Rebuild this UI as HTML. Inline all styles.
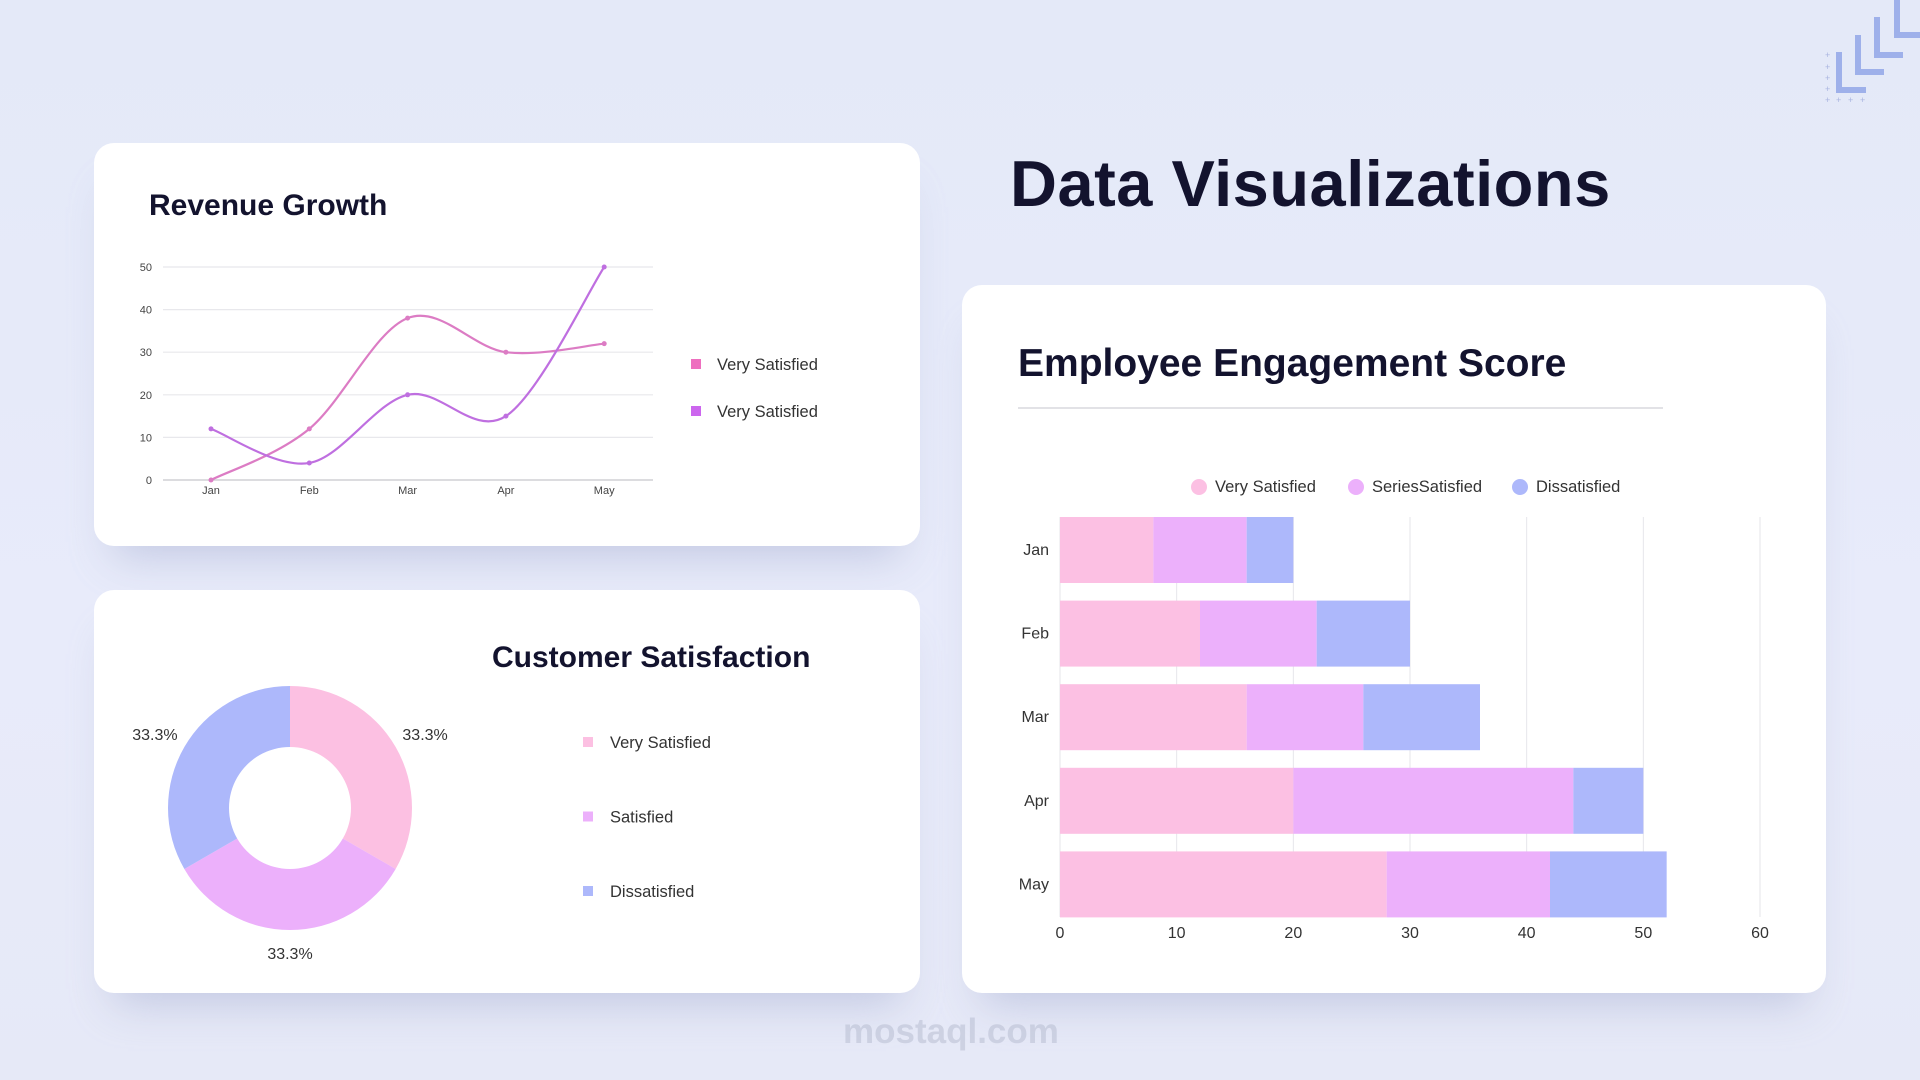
<!DOCTYPE html>
<html><head><meta charset="utf-8"><style>
*{margin:0;padding:0;box-sizing:border-box}
body{width:1920px;height:1080px;overflow:hidden;background:linear-gradient(180deg,#e4e9f8 0%,#e8ebfa 60%,#e6e9f7 100%);font-family:"Liberation Sans",sans-serif;position:relative}
.card{position:absolute;background:#fff;border-radius:20px;box-shadow:0 30px 40px -20px rgba(150,160,200,0.45)}
.abs{position:absolute}
</style></head><body>
<svg class="abs" style="left:1800px;top:0" width="120" height="110">
<g fill="none" stroke="#9eb0ea" stroke-width="6">
<path d="M1839 52 V90 H1866" transform="translate(-1800,0)"/>
<path d="M1858 35 V72 H1884" transform="translate(-1800,0)"/>
<path d="M1877 17 V55 H1903" transform="translate(-1800,0)"/>
<path d="M1897 0 V35 H1920" transform="translate(-1800,0)"/>
</g>
<g fill="#a9b4e0" font-size="9"><text x="25" y="58">+</text><text x="25" y="70">+</text><text x="25" y="81">+</text><text x="25" y="92">+</text><text x="25" y="103">+</text><text x="36" y="103">+</text><text x="48" y="103">+</text><text x="60" y="103">+</text></g>
</svg>
<div class="abs" style="left:1010px;top:146px;font-size:65px;font-weight:bold;color:#13132e;letter-spacing:0.5px">Data Visualizations</div>

<div class="card" style="left:94px;top:143px;width:826px;height:403px"></div>
<div class="card" style="left:94px;top:590px;width:826px;height:403px"></div>
<div class="card" style="left:962px;top:285px;width:864px;height:708px"></div>

<div class="abs" style="left:843px;top:1012px;font-size:35px;font-weight:bold;color:rgba(180,185,205,0.5)">mostaql.com</div>

<svg class="abs" style="left:0;top:0" width="1920" height="1080" id="main">
<text x="149" y="215" font-size="30" font-weight="bold" fill="#13132e">Revenue Growth</text>
<g id="line"></g>
<text x="492" y="667" font-size="30" font-weight="bold" fill="#13132e">Customer Satisfaction</text>
<g id="pie"></g>
<text x="1018" y="376" font-size="39" font-weight="bold" fill="#13132e">Employee Engagement Score</text>
<line x1="1018" y1="408" x2="1663" y2="408" stroke="#d8d8de" stroke-width="1.5"/>
<g id="bar"></g>
</svg>
<script>
// Line chart data
const lineMonths=["Jan","Feb","Mar","Apr","May"];
const lineSeriesA=[0,12,38,30,32];
const lineSeriesB=[12,4,20,15,50];
const lineTicks=[0,10,20,30,40,50];
// Pie data
const pieLabels=["Very Satisfied","Satisfied","Dissatisfied"];
const pieValues=[1,1,1];
// Bar data
const barMonths=["Jan","Feb","Mar","Apr","May"];
const barVerySat=[8,12,16,20,28];
const barSat=[8,10,10,24,14];
const barDissat=[4,8,10,6,10];
const barTicks=[0,10,20,30,40,50,60];
const barLegend=["Very Satisfied","SeriesSatisfied","Dissatisfied"];

const NS="http://www.w3.org/2000/svg";
function mk(p,t,a){const e=document.createElementNS(NS,t);for(const k in a)e.setAttribute(k,a[k]);p.appendChild(e);return e;}

// ---- line chart
const LG=document.getElementById('line');
const lx=i=>211+i*98.3, ly=v=>480-v*(213/50);
lineTicks.forEach(t=>{
  const l=mk(LG,'line',{x1:163,x2:653,y1:ly(t),y2:ly(t),stroke:t===0?'#c8c8cc':'#e8e8ec','stroke-width':1.2});
  
  
  const tx=mk(LG,'text',{x:152,y:ly(t)+4,'font-size':11,fill:'#444','text-anchor':'end'});tx.textContent=t;
  
  
});
lineMonths.forEach((m,i)=>{const tx=mk(LG,'text',{x:lx(i),y:494,'font-size':11,fill:'#444','text-anchor':'middle'});tx.textContent=m;
  
  });
function smooth(vals){const p=vals.map((v,i)=>[lx(i),ly(v)]);let d=`M${p[0][0]},${p[0][1]}`;
  for(let i=0;i<p.length-1;i++){const p0=p[Math.max(i-1,0)],p1=p[i],p2=p[i+1],p3=p[Math.min(i+2,p.length-1)];
  d+=` C${p1[0]+(p2[0]-p0[0])/6},${p1[1]+(p2[1]-p0[1])/6} ${p2[0]-(p3[0]-p1[0])/6},${p2[1]-(p3[1]-p1[1])/6} ${p2[0]},${p2[1]}`;}return d;}
[[lineSeriesA,'#dc7cc4','series-a'],[lineSeriesB,'#bf6fe0','series-b']].forEach(([s,c,n])=>{
  const pth=mk(LG,'path',{d:smooth(s),fill:'none',stroke:c,'stroke-width':2.2});
  
  
  s.forEach((v,i)=>{const pt=mk(LG,'circle',{cx:lx(i),cy:ly(v),r:2.5,fill:c});
    
    });
});
[['#ee6fbf',364],['#cc66ee',411]].forEach(([c,y])=>{
  const r=mk(LG,'rect',{x:691,y:y-5,width:10,height:10,fill:c});
  
  
  const t=mk(LG,'text',{x:717,y:y+6,'font-size':16.5,fill:'#333'});t.textContent='Very Satisfied';
  
  
});

// ---- pie
const PG=document.getElementById('pie');
const cx=290,cy=808,R=122,r0=61,pieColors=['#fcc0e2','#ecb0fb','#adb8fb'];
const total=pieValues.reduce((a,b)=>a+b,0);let ang=-Math.PI/2;
pieValues.forEach((v,i)=>{const a2=ang+v/total*2*Math.PI;const lg=(a2-ang)>Math.PI?1:0;
  const P=(r,a)=>`${cx+r*Math.cos(a)},${cy+r*Math.sin(a)}`;
  const s=mk(PG,'path',{d:`M${P(R,ang)} A${R},${R} 0 ${lg} 1 ${P(R,a2)} L${P(r0,a2)} A${r0},${r0} 0 ${lg} 0 ${P(r0,ang)}Z`,fill:pieColors[i]});
  
  
  const mid=(ang+a2)/2;const bottom=Math.abs(Math.sin(mid))>0.9;
  const lx2=cx+(R+34)*Math.cos(mid);
  const ly2=bottom?cy+R+29:cy+(R+34)*Math.sin(mid)-28*Math.sin(mid)-4;
  const t=mk(PG,'text',{x:lx2,y:ly2,'font-size':16,fill:'#333','text-anchor':'middle'});t.textContent=(v/total*100).toFixed(1)+'%';
  
  
  ang=a2;});
pieLabels.forEach((l,i)=>{const y=742+i*74.5;
  const r=mk(PG,'rect',{x:583,y:y-5,width:10,height:10,fill:pieColors[i]});
  
  
  const t=mk(PG,'text',{x:610,y:y+6,'font-size':16.5,fill:'#333'});t.textContent=l;
  
  });

// ---- bar
const BG=document.getElementById('bar');
const bx=v=>1060+v*(700/60), by=i=>517+i*83.6, bh=66;
barTicks.forEach(t=>{
  const l=mk(BG,'line',{x1:bx(t),x2:bx(t),y1:517,y2:917,stroke:'#e6e6ea','stroke-width':1});
  
  
  const tx=mk(BG,'text',{x:bx(t),y:938,'font-size':16,fill:'#333','text-anchor':'middle'});tx.textContent=t;
  
  });
const bcol=['#fcc0e3','#ecb0fb','#adb8fb'];
barMonths.forEach((m,i)=>{let acc=0;
  [barVerySat[i],barSat[i],barDissat[i]].forEach((v,k)=>{
    const r=mk(BG,'rect',{x:bx(acc),y:by(i),width:bx(acc+v)-bx(acc),height:bh,fill:bcol[k]});
    
    
    acc+=v;});
  const t=mk(BG,'text',{x:1049,y:by(i)+bh/2+5,'font-size':16,fill:'#333','text-anchor':'end'});t.textContent=m;
  
  });
[1199,1356,1520].forEach((x,k)=>{
  const c=mk(BG,'circle',{cx:x,cy:487,r:8,fill:bcol[k]});
  
  
  const t=mk(BG,'text',{x:x+16,y:492,'font-size':16.5,fill:'#333'});t.textContent=barLegend[k];
  
  });
</script>
</body></html>
